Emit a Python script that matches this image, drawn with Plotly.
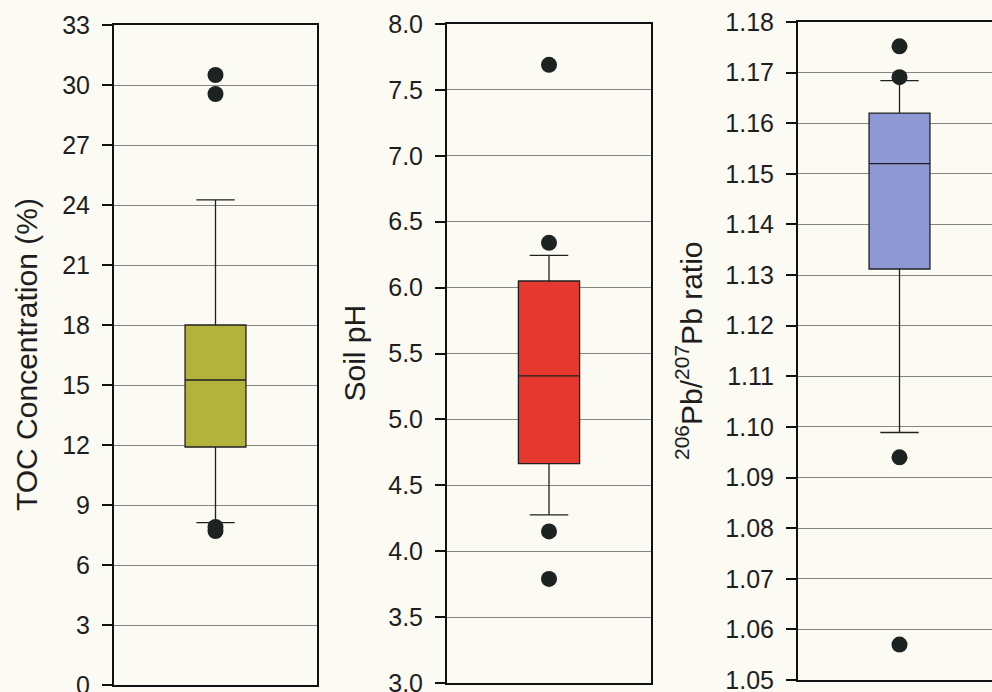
import plotly.graph_objects as go

# ---------------- data ----------------
toc_stats = dict(q1=11.9, median=15.25, q3=18.0, lowerfence=8.12, upperfence=24.26)
toc_outliers = [30.5, 29.55, 7.9, 7.7]
toc_ticks = [0, 3, 6, 9, 12, 15, 18, 21, 24, 27, 30, 33]

ph_stats = dict(q1=4.665, median=5.33, q3=6.05, lowerfence=4.275, upperfence=6.245)
ph_outliers = [7.69, 6.34, 4.15, 3.79]
ph_ticks = [3.0, 3.5, 4.0, 4.5, 5.0, 5.5, 6.0, 6.5, 7.0, 7.5, 8.0]

pb_stats = dict(q1=1.1312, median=1.152, q3=1.162, lowerfence=1.0989, upperfence=1.1684)
pb_outliers = [1.1752, 1.1691, 1.094, 1.057]
pb_ticks = [1.05, 1.06, 1.07, 1.08, 1.09, 1.10, 1.11, 1.12, 1.13, 1.14, 1.15, 1.16, 1.17, 1.18]

titles = ["TOC Concentration (%)", "Soil pH", "<sup>206</sup>Pb/<sup>207</sup>Pb ratio"]
colors = ["#b3b23a", "#e5382e", "#8e98d4"]

# ---------------- layout helpers ----------------
W, H = 992, 692
BG = "#fbfaf3"
DOT = "#1d2320"
FONT = "Liberation Sans, Arial, sans-serif"

# pixel boxes of each panel: (left, right, top, bottom)
panels = [(114, 317, 25, 685), (447, 651, 24, 683), (798, 1001, 22, 680)]
title_x = [27, 354, 689]

fig = go.Figure()

stats_list = [toc_stats, ph_stats, pb_stats]
outs_list = [toc_outliers, ph_outliers, pb_outliers]
ticks_list = [toc_ticks, ph_ticks, pb_ticks]
fmts = ["d", ".1f", ".2f"]

for i in range(3):
    n = "" if i == 0 else str(i + 1)
    st = stats_list[i]
    fig.add_trace(go.Box(
        x=[0], q1=[st["q1"]], median=[st["median"]], q3=[st["q3"]],
        lowerfence=[st["lowerfence"]], upperfence=[st["upperfence"]],
        width=0.3, whiskerwidth=0.63, boxpoints=False,
        fillcolor=colors[i], line=dict(color="#202020", width=1.3),
        xaxis="x" + n, yaxis="y" + n, showlegend=False,
    ))
    fig.add_trace(go.Scatter(
        x=[0] * len(outs_list[i]), y=outs_list[i], mode="markers",
        marker=dict(size=16, color=DOT, line=dict(width=0)),
        xaxis="x" + n, yaxis="y" + n, showlegend=False,
    ))

layout = dict(
    width=W, height=H, margin=dict(l=0, r=0, t=0, b=0),
    paper_bgcolor=BG, plot_bgcolor=BG, template="none",
    font=dict(family=FONT, color="#1e1e1e"),
)

annotations = []
for i in range(3):
    n = "" if i == 0 else str(i + 1)
    L, R, T, B = panels[i]
    x0 = L / W
    x1 = min(R, W) / W
    # x range: 1 unit spans full panel width (R-L) px, box centred at 0
    xr_right = -0.5 + (min(R, W) - L) / (R - L)
    ticks = ticks_list[i]
    layout["xaxis" + n] = dict(
        domain=[x0, x1], range=[-0.5, xr_right], anchor="y" + n,
        showticklabels=False, showgrid=False, zeroline=False, ticks="",
        showline=True, mirror=True, linecolor="#111", linewidth=2,
        fixedrange=True, automargin=False,
    )
    layout["yaxis" + n] = dict(
        domain=[1 - B / H, 1 - T / H], range=[ticks[0], ticks[-1]], anchor="x" + n,
        tickvals=ticks, tickformat=fmts[i], ticks="outside", ticklen=10,
        tickwidth=1.5, tickcolor="#111", ticklabelstandoff=7,
        ticklabeloverflow="allow",
        tickfont=dict(size=25, family=FONT, color="#1e1e1e"),
        showline=True, mirror=(i < 2), linecolor="#111", linewidth=2,
        showgrid=True, gridcolor="#858585", gridwidth=1.2, zeroline=False,
        fixedrange=True, automargin=False,
    )
    annotations.append(dict(
        text=titles[i], x=title_x[i] / W, y=1 - (T + B) / 2 / H,
        xref="paper", yref="paper", xanchor="center", yanchor="middle",
        textangle=-90, showarrow=False,
        font=dict(size=30, family=FONT, color="#1e1e1e"),
    ))

layout["annotations"] = annotations
fig.update_layout(**layout)
fig.write_html("out.html")
